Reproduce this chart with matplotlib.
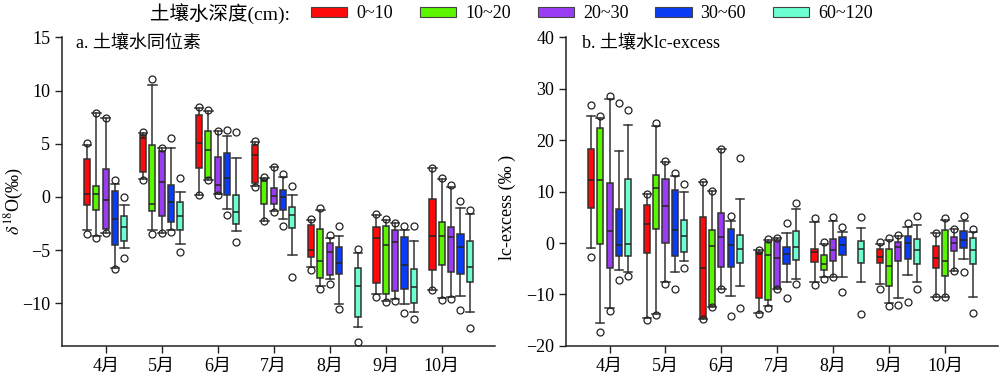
import numpy as np
import matplotlib
matplotlib.use("Agg")
import matplotlib.pyplot as plt
from matplotlib.patches import Patch

plt.rcParams["font.family"] = ["Liberation Serif", "Noto Sans CJK SC"]
plt.rcParams["mathtext.fontset"] = "stix"
plt.rcParams["font.size"] = 13

months = ["4月", "5月", "6月", "7月", "8月", "9月", "10月"]
depths = ["0~10", "10~20", "20~30", "30~60", "60~120"]
colors = ["#ff0a0a", "#5cf500", "#9b3cf5", "#0a3cf5", "#6cffd2"]

# rows = depth, columns = month (4..10)
# a. d18O
d18o_min = [
	[-3.5, 1.62, 0.19, 0.9, -6.9, -9.37, -8.75],
	[-3.85, -3.5, 1.62, -2.22, -8.63, -9.88, -9.69],
	[-3.37, -3.37, 0.2, -1.4, -8.16, -9.78, -9.56],
	[-6.8, -3.25, -1.66, -2.75, -10.56, -10.94, -10.63],
	[-5.72, -5.19, -4.19, -7.53, -13.63, -11.5, -12.28],
]
d18o_whislo = [
	[-3.13, 1.69, 0.19, 1.06, -6.56, -9.1, -8.75],
	[-3.7, -3.06, 1.62, -2.22, -8.38, -9.78, -9.5],
	[-3.37, -3.37, 0.25, -1.35, -7.75, -9.56, -9.37],
	[-6.66, -3.13, -1.13, -2.03, -10.03, -10.07, -9.31],
	[-4.82, -4.38, -3.22, -5.5, -12.19, -10.81, -10.81],
]
d18o_q1 = [
	[-0.79, 2.37, 2.72, 1.31, -5.62, -8.13, -6.91],
	[-1.19, -1.35, 1.81, -0.63, -7.6, -9.13, -6.41],
	[-3.0, -1.82, 0.31, -0.66, -7.31, -8.88, -7.03],
	[-4.47, -2.31, 0.19, -1.19, -7.28, -8.66, -7.28],
	[-4.16, -3.13, -2.57, -2.91, -11.28, -9.97, -8.0],
]
d18o_med = [
	[0.28, 5.59, 5.09, 3.96, -5.0, -3.84, -3.66],
	[0.28, -0.66, 4.46, 1.53, -6.03, -4.56, -3.66],
	[-0.32, 1.37, 1.09, 0.06, -5.19, -4.22, -3.78],
	[-2.03, -0.5, 1.78, 0.0, -6.22, -6.41, -4.66],
	[-2.85, -1.82, -1.38, -1.72, -8.38, -8.47, -6.56],
]
d18o_q3 = [
	[3.56, 5.87, 7.74, 4.84, -2.62, -2.85, -0.19],
	[1.06, 4.93, 6.19, 1.69, -3.0, -2.69, -2.31],
	[2.62, 4.28, 3.78, 0.84, -4.31, -3.06, -2.81],
	[0.59, 1.12, 4.18, 0.68, -4.66, -3.78, -3.5],
	[-1.82, -0.44, 0.15, -0.91, -6.66, -6.81, -4.1],
]
d18o_whishi = [
	[4.9, 6.06, 8.4, 5.2, -2.19, -1.66, 2.72],
	[7.93, 10.55, 8.09, 1.8, -1.25, -2.13, 1.69],
	[7.4, 4.62, 6.24, 2.84, -3.85, -2.47, 0.9],
	[1.25, 4.62, 5.75, 1.84, -3.63, -3.13, -1.03],
	[-0.79, 0.47, 3.71, 0.15, -5.25, -4.1, -1.6],
]
d18o_max = [
	[5.06, 6.12, 8.49, 5.25, -2.03, -1.6, 2.72],
	[7.93, 11.1, 8.15, 1.87, -1.06, -2.03, 1.78],
	[7.4, 4.62, 6.24, 2.84, -3.53, -2.47, 1.12],
	[1.62, 5.53, 6.28, 2.16, -2.75, -2.69, -0.41],
	[-0.03, 1.78, 6.09, 1.0, -4.88, -2.69, -1.19],
]

# b. lc-excess
lc_min = [
	[-2.7, -14.9, -14.85, -13.75, -8.2, -8.95, -10.4],
	[-17.3, -14.0, -12.45, -12.7, -6.9, -12.3, -10.4],
	[-13.3, -7.9, -8.95, -8.95, -6.7, -12.0, -5.5],
	[-7.1, -9.0, -14.2, -10.7, -9.5, -11.5, -5.65],
	[-6.5, -4.87, -12.65, -7.9, -13.8, -8.9, -13.6],
]
lc_whislo = [
	[-0.9, -14.6, -14.7, -13.6, -7.5, -7.9, -10.4],
	[-15.6, -13.75, -12.45, -12.3, -6.6, -11.7, -10.4],
	[-12.7, -7.66, -8.95, -8.95, -6.7, -10.65, -5.5],
	[-5.3, -5.6, -10.25, -7.66, -6.7, -6.3, -3.1],
	[-5.6, -3.4, -8.4, -7.0, -7.66, -7.5, -10.5],
]
lc_q1 = [
	[6.74, -1.95, -14.5, -10.6, -3.7, -3.9, -4.86],
	[-0.2, 2.7, -12.3, -11.0, -5.2, -8.3, -6.36],
	[-4.86, -0.07, -4.67, -8.8, -3.57, -3.4, -1.5],
	[-2.6, -2.47, -4.67, -4.16, -2.28, -3.05, -0.9],
	[-2.6, -1.75, -3.97, -3.3, -3.97, -4.16, -4.16],
]
lc_med = [
	[12.2, 3.8, -4.86, -2.14, -1.75, -2.8, -2.92],
	[12.2, 10.7, -0.65, -2.28, -4.03, -4.55, -3.44],
	[2.33, 7.3, 1.1, -2.86, -1.3, -0.78, 0.06],
	[-0.33, 2.45, -0.4, -2.08, -0.46, 0.05, 0.64],
	[-0.2, 1.3, -1.1, -0.86, -1.1, -1.37, -1.37],
]
lc_q3 = [
	[18.35, 7.4, 5.0, -1.75, -1.17, -1.17, -0.65],
	[22.3, 13.2, 2.5, 0.3, -2.33, -1.1, 2.45],
	[11.7, 12.45, 5.77, 0.64, 0.84, 0.13, 1.1],
	[6.55, 10.3, 2.8, -0.72, 1.23, 1.3, 2.4],
	[12.5, 4.47, 1.6, 2.26, 0.32, 0.84, 0.9],
]
lc_whishi = [
	[24.8, 9.5, 11.9, -1.3, 4.15, -0.13, 1.95],
	[24.25, 22.7, 10.2, 0.64, -0.2, 0.64, 4.5],
	[28.1, 15.7, 18.3, 0.97, 4.35, 1.3, 2.72],
	[18.0, 13.1, 4.35, 1.87, 2.07, 3.2, 4.2],
	[22.9, 9.85, 8.6, 6.6, 2.85, 3.6, 2.2],
]
lc_max = [
	[26.9, 9.5, 11.9, -1.3, 4.8, 0.13, 1.95],
	[24.8, 23.3, 10.2, 0.84, 0.25, 0.97, 4.8],
	[28.6, 15.9, 18.3, 0.97, 5.0, 1.6, 2.72],
	[27.2, 13.6, 5.3, 3.95, 3.1, 3.95, 5.2],
	[25.8, 11.5, 16.5, 7.78, 5.0, 5.2, 2.65],
]

# slot of each depth box inside a month group (1 slot = 1/6 month)
box_slots = [
	[-2, -1, 0, 1, 2],
	[-2, -1, 0, 1, 2],
	[-2, -1, 0, 1, 2],
	[-2, -1, 0, 1, 2],
	[-2, -1, 0, 1, 3],
	[-1, 0, 1, 2, 3],
	[-1, 0, 1, 2, 3],
]

edge = "#333333"

def draw_panel(ax, vmin, wlo, q1, med, q3, whi, vmax):
	for d in range(len(depths)):
		stats = []
		pos = []
		for m in range(len(months)):
			stats.append(dict(med=med[d][m], q1=q1[d][m], q3=q3[d][m],
				whislo=wlo[d][m], whishi=whi[d][m],
				fliers=[vmin[d][m], vmax[d][m]]))
			pos.append(m + 1 + box_slots[m][d] / 6)
		ax.bxp(stats, positions=pos, widths=0.11, capwidths=0.15,
			patch_artist=True, manage_ticks=False,
			boxprops=dict(facecolor=colors[d], edgecolor=edge, linewidth=1.1),
			medianprops=dict(color="#222222", linewidth=1.1),
			whiskerprops=dict(color=edge, linewidth=1.1),
			capprops=dict(color=edge, linewidth=1.1),
			flierprops=dict(marker="o", markerfacecolor="none",
				markeredgecolor="#222222", markersize=5, markeredgewidth=0.9))
	ax.set_xticks(range(1, len(months) + 1))
	ax.set_xticklabels(months)
	ax.set_xlim(0.22, 7.95)
	for s in ["top", "right"]:
		ax.spines[s].set_visible(False)
	for s in ["left", "bottom"]:
		ax.spines[s].set_color("#222222")
		ax.spines[s].set_linewidth(1.1)
	ax.tick_params(direction="out", length=5, width=1.0, color="#222222")

fig = plt.figure(figsize=(10, 3.78), dpi=100)
ax1 = fig.add_axes([0.062, 0.085, 0.433, 0.816])
ax2 = fig.add_axes([0.566, 0.085, 0.432, 0.816])

draw_panel(ax1, d18o_min, d18o_whislo, d18o_q1, d18o_med, d18o_q3, d18o_whishi, d18o_max)
ax1.set_ylim(-14, 15)
ax1.set_yticks([-10, -5, 0, 5, 10, 15])
ax1.set_yticklabels(["\u221210", "\u22125", "0", "5", "10", "15"])
ax1.set_ylabel(r"$\delta^{18}$O(‰)")
ax1.yaxis.set_label_coords(-0.083, 0.47)
ax1.text(0.032, 0.979, "a. 土壤水同位素", transform=ax1.transAxes, va="center", ha="left")

draw_panel(ax2, lc_min, lc_whislo, lc_q1, lc_med, lc_q3, lc_whishi, lc_max)
ax2.set_ylim(-20, 40)
ax2.set_yticks([-20, -10, 0, 10, 20, 30, 40])
ax2.set_yticklabels(["\u221220", "\u221210", "0", "10", "20", "30", "40"])
ax2.set_ylabel("lc-excess (‰ )")
ax2.yaxis.set_label_coords(-0.115, 0.45)
ax2.text(0.036, 0.979, "b. 土壤水lc-excess", transform=ax2.transAxes, va="center", ha="left")

handles = [Patch(facecolor=c, edgecolor="#444444", linewidth=0.8) for c in colors]
fig.text(0.29, 0.963, "土壤水深度(cm):", ha="right", va="center", fontsize=14)
fig.legend(handles, depths, ncol=5, loc="center left", bbox_to_anchor=(0.311, 0.963),
	frameon=False, handlelength=2.0, handleheight=0.45, handletextpad=0.5,
	columnspacing=1.5, borderaxespad=0, borderpad=0)

fig.savefig("out.png", dpi=100)
